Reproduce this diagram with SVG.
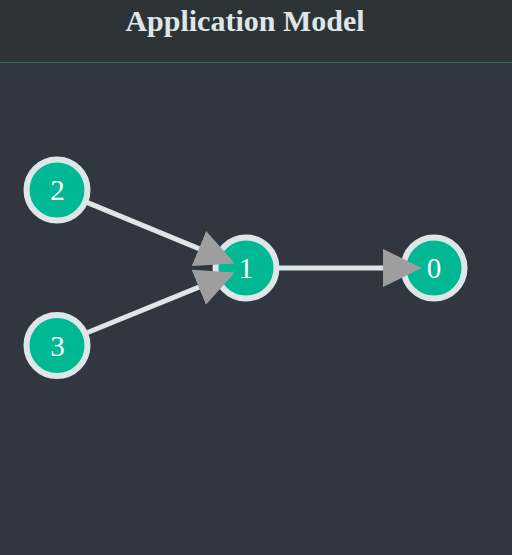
<svg xmlns="http://www.w3.org/2000/svg" width="512" height="555" viewBox="0 0 512 555">
<style>
.node circle{fill:#00b894;stroke:#dfe6e9;stroke-width:6}
.node text{font-family:"Liberation Serif",serif;font-size:29px;fill:#ffffff;text-anchor:middle}
.edge{stroke:#dfe6e9;stroke-width:5;fill:none;marker-end:url(#arrow)}
</style>
<defs>
<marker id="arrow" viewBox="0 0 39 38" refX="26" refY="19" markerWidth="39" markerHeight="38" markerUnits="userSpaceOnUse" orient="auto">
<path d="M0,0 L39,19 L0,38 Z" fill="#9e9e9e"/>
</marker>
</defs>
<rect x="0" y="0" width="512" height="555" fill="#303741"/>
<rect x="0" y="0" width="512" height="62" fill="#2d3436"/>
<line x1="0" y1="62.5" x2="512" y2="62.5" stroke="#3f6660" stroke-width="1"/>
<text x="245" y="31" font-family="Liberation Serif,serif" font-weight="bold" font-size="30" fill="#dfe6e9" text-anchor="middle">Application Model</text>
<g id="node-2" class="node"><circle cx="57" cy="190" r="30.5"/><text x="57.5" y="199.5">2</text></g>
<g id="node-3" class="node"><circle cx="57" cy="345.5" r="30.5"/><text x="57.5" y="356">3</text></g>
<g id="node-1" class="node"><circle cx="246" cy="268" r="30.5"/><text x="246" y="278">1</text></g>
<g id="node-0" class="node"><circle cx="434" cy="268" r="30.5"/><text x="434" y="278">0</text></g>
<g id="edges">
<line class="edge" x1="87.5" y1="202.6" x2="222.9" y2="258.5"/>
<line class="edge" x1="87.6" y1="332.5" x2="222.8" y2="277.4"/>
<line class="edge" x1="279" y1="268" x2="409" y2="268"/>
</g>
</svg>
